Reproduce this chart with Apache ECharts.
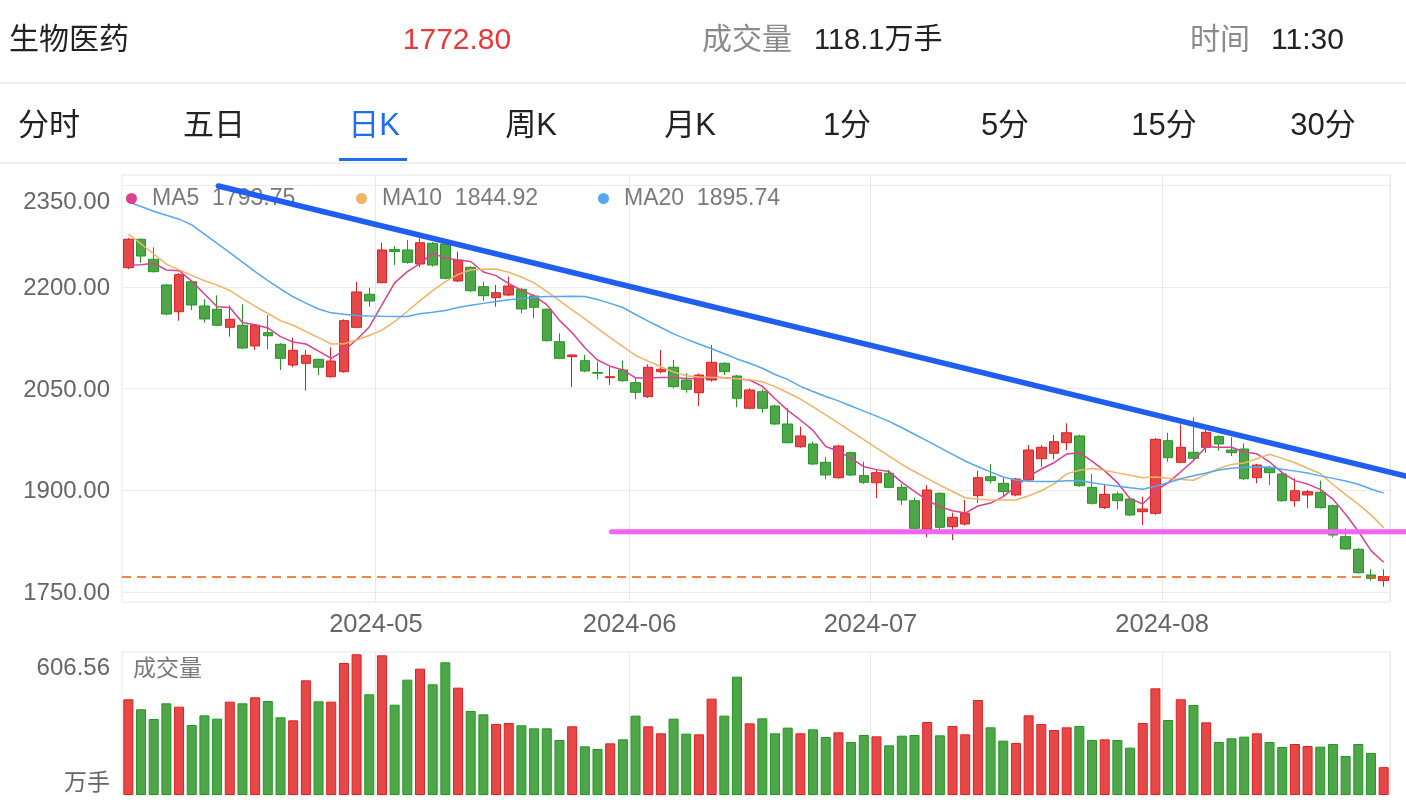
<!DOCTYPE html>
<html><head><meta charset="utf-8">
<script src="https://cdn.jsdelivr.net/npm/echarts@6/dist/echarts.min.js"></script>
<style>html,body{margin:0;padding:0;background:#fff;}#c{width:1406px;height:808px;}</style>
</head><body><div id="c"></div>
<script>
const dates = [
'2024-04-01','2024-04-02','2024-04-03','2024-04-08','2024-04-09','2024-04-10','2024-04-11','2024-04-12','2024-04-15','2024-04-16',
'2024-04-17','2024-04-18','2024-04-19','2024-04-22','2024-04-23','2024-04-24','2024-04-25','2024-04-26','2024-04-29','2024-04-30',
'2024-05-06','2024-05-07','2024-05-08','2024-05-09','2024-05-10','2024-05-13','2024-05-14','2024-05-15','2024-05-16','2024-05-17',
'2024-05-20','2024-05-21','2024-05-22','2024-05-23','2024-05-24','2024-05-27','2024-05-28','2024-05-29','2024-05-30','2024-05-31',
'2024-06-03','2024-06-04','2024-06-05','2024-06-06','2024-06-07','2024-06-11','2024-06-12','2024-06-13','2024-06-14','2024-06-17',
'2024-06-18','2024-06-19','2024-06-20','2024-06-21','2024-06-24','2024-06-25','2024-06-26','2024-06-27','2024-06-28','2024-07-01',
'2024-07-02','2024-07-03','2024-07-04','2024-07-05','2024-07-08','2024-07-09','2024-07-10','2024-07-11','2024-07-12','2024-07-15',
'2024-07-16','2024-07-17','2024-07-18','2024-07-19','2024-07-22','2024-07-23','2024-07-24','2024-07-25','2024-07-26','2024-07-29',
'2024-07-30','2024-07-31','2024-08-01','2024-08-02','2024-08-05','2024-08-06','2024-08-07','2024-08-08','2024-08-09','2024-08-12',
'2024-08-13','2024-08-14','2024-08-15','2024-08-16','2024-08-19','2024-08-20','2024-08-21','2024-08-22','2024-08-23','2024-08-26'];

const open = [2228.1,2270.0,2240.5,2202.6,2163.2,2207.4,2171.6,2166.8,2140.2,2143.2,
2112.7,2132.3,2115.2,2084.6,2087.1,2093.0,2067.4,2074.8,2140.2,2188.9,
2206.0,2255.0,2254.2,2233.5,2264.0,2263.0,2208.5,2228.7,2200.1,2183.9,
2187.8,2196.3,2186.4,2166.8,2119.0,2096.9,2091.0,2073.5,2065.9,2077.3,
2058.6,2037.9,2074.8,2081.3,2062.5,2043.8,2062.5,2087.1,2068.4,2020.8,
2045.3,2024.2,1997.7,1964.2,1968.2,1941.2,1918.5,1955.4,1921.5,1911.1,
1925.0,1904.3,1884.6,1842.4,1895.5,1846.3,1850.2,1892.0,1920.0,1910.2,
1893.0,1915.1,1946.5,1954.5,1970.1,1980.0,1904.3,1874.6,1894.5,1887.1,
1868.4,1866.0,1973.0,1941.2,1956.0,1963.3,1979.0,1959.3,1960.8,1918.5,
1933.8,1924.0,1884.6,1893.0,1897.0,1877.2,1831.5,1812.9,1775.1,1766.7];

const close = [2270.0,2245.3,2222.2,2159.8,2217.8,2173.1,2152.5,2143.2,2152.0,2109.7,
2143.2,2127.8,2094.5,2106.3,2098.9,2081.3,2090.5,2150.0,2192.3,2179.0,
2254.2,2252.0,2236.0,2264.9,2232.0,2212.5,2239.4,2194.2,2186.8,2191.2,
2201.1,2167.2,2169.7,2120.5,2094.5,2099.4,2075.8,2072.5,2067.4,2061.5,
2044.4,2081.3,2078.3,2052.7,2048.8,2069.9,2088.6,2074.8,2035.6,2047.8,
2020.8,1997.7,1970.1,1980.0,1938.7,1922.5,1965.2,1922.5,1911.7,1925.9,
1904.3,1885.6,1843.9,1900.4,1845.4,1860.1,1866.0,1918.5,1914.1,1897.9,
1916.6,1959.3,1963.3,1971.6,1984.8,1906.7,1880.8,1894.0,1884.6,1863.5,
1872.4,1975.1,1948.0,1963.3,1947.1,1985.4,1968.2,1955.4,1917.0,1937.2,
1925.9,1884.6,1899.3,1897.9,1874.3,1834.0,1813.4,1778.5,1770.2,1772.8];

const low = [2226,2235.4,2221,2158,2150,2165.7,2147,2142,2126.4,2108,
2106.8,2107.8,2077.3,2081.3,2046.8,2069.9,2066,2073,2139,2170.6,
2205,2232,2234,2228.7,2229.6,2211,2207,2192,2179,2170.6,
2186,2160.9,2153.5,2119,2093,2051.8,2074,2063.6,2055.2,2060,
2034.1,2036,2072.4,2050.3,2043.8,2024.2,2060,2069.9,2022.3,2019,
2014.3,1996,1969,1962.7,1937,1916.1,1917,1921,1909.2,1888.1,
1903,1878.3,1843,1830.6,1841.4,1826.7,1848,1881.6,1910.2,1891.5,
1891,1913,1934.7,1945.6,1959.3,1905,1879,1872.4,1871.9,1862,
1848.8,1863.5,1942.1,1940,1945,1955.4,1958.3,1950.5,1915,1910.2,
1907.7,1883,1875.7,1873.4,1873,1830.6,1812,1777,1766.7,1757.8];

const high = [2272,2271,2258.2,2204,2220,2209,2181.5,2187.4,2172.6,2174.1,
2145,2158.3,2117,2124.9,2106.8,2094,2110.7,2152,2207.4,2198.6,
2265,2260,2268.9,2271.4,2266,2264.5,2251.7,2230,2207.4,2202.6,
2214.8,2198,2188.9,2168,2131.4,2100.5,2099.4,2089.5,2082.1,2091,
2065,2085.7,2106.8,2092,2072.4,2072,2114.1,2089,2070,2050.3,
2048.8,2026,2020.8,1993.7,1971.6,1949.5,1967,1957,1942.1,1929.9,
1930,1909.2,1889,1907.7,1897,1866.9,1885.6,1928.8,1938.7,1918.5,
1918.5,1966.7,1966.7,1981.5,1998.7,1982,1924,1908.8,1897.9,1889,
1890.5,1977,1984.8,1997.2,2007.5,1988.8,1981,1978.1,1969.2,1939,
1936,1926,1917.6,1900.4,1914.1,1879,1843.9,1815,1783.5,1783.5];

const volume = [405.9,363.4,322.4,388.8,374.6,296.9,337.9,323.8,395.9,388.8,
414.3,398.7,329.5,316.7,486.4,397.3,395.9,559.9,596.8,427.0,
592.5,383.2,489.2,535.9,469.4,562.8,455.3,356.3,342.2,301.2,
305.4,295.6,282.8,282.8,233.3,291.3,206.4,195.1,219.1,236.1,
336.5,291.3,261.6,323.8,260.2,257.3,408.6,336.5,502.0,303.9,
325.2,261.6,285.6,261.6,278.5,246.0,265.8,224.8,254.5,248.8,
210.7,251.6,254.5,309.6,253.1,292.7,257.3,403.0,287.0,230.5,
220.6,337.9,301.2,275.7,287.0,292.7,233.3,236.1,233.3,200.8,
305.4,452.4,318.1,405.9,381.8,308.2,224.8,240.4,247.5,261.6,
224.8,203.6,216.3,207.8,205.0,216.3,165.4,216.3,178.2,118.1];

const ma5 = [2231.6,2232.5,2234.7,2224.7,2223.7,2208.3,2189.3,2170.6,2169.4,2147.3,
2143.9,2139.3,2126.5,2118.4,2115.6,2105.1,2094.5,2105.7,2121.9,2140.7,
2173.3,2205.8,2222.3,2234.1,2249.2,2242.5,2239.6,2237.2,2221.8,2216.4,
2204.7,2194.8,2186.5,2173.5,2150.4,2132.3,2110.2,2092.0,2082.9,2077.3,
2065.6,2065.6,2066.1,2066.4,2064.8,2064.8,2067.3,2065.8,2064.0,2062.5,
2053.1,2034.8,2017.7,2003.6,1988.2,1964.4,1957.4,1947.1,1934.7,1930.4,
1927.5,1911.6,1898.2,1885.5,1875.6,1869.7,1866.3,1876.8,1881.1,1890.6,
1905.5,1920.4,1931.3,1940.6,1953.4,1955.4,1942.8,1928.5,1911.3,1887.6,
1879.7,1898.6,1911.3,1927.2,1943.7,1964.1,1963.5,1963.3,1956.4,1953.7,
1941.7,1925.9,1914.2,1909.1,1901.3,1886.8,1864.6,1839.6,1811.0,1793.75];

const ma10 = [2277.8,2263.3,2248.3,2233.4,2224.8,2216.7,2208.9,2202.4,2194.5,2182.5,
2171.0,2160.6,2150.1,2143.2,2134.0,2124.9,2115.6,2115.8,2121.4,2128.1,
2136.0,2148.5,2163.5,2179.6,2194.2,2207.6,2218.2,2224.8,2225.9,2226.2,
2221.3,2214.4,2205.8,2192.9,2179.6,2166.0,2152.5,2138.5,2125.0,2111.9,
2098.7,2090.3,2082.1,2074.3,2068.9,2067.0,2066.4,2065.8,2064.5,2062.8,
2060.0,2052.7,2043.7,2034.5,2023.0,2011.1,1999.0,1986.8,1974.7,1962.4,
1950.2,1938.0,1927.6,1917.5,1907.5,1898.2,1888.9,1886.7,1885.6,1885.6,
1885.6,1891.8,1899.3,1909.5,1924.1,1929.6,1932.2,1929.4,1925.6,1922.0,
1918.5,1919.5,1917.6,1915.9,1914.8,1923.4,1932.1,1938.1,1940.2,1946.4,
1953.0,1947.0,1940.6,1932.5,1924.6,1908.5,1893.6,1879.6,1863.7,1844.92];

const ma20 = [2324.9,2318.3,2311.4,2305.3,2299.6,2291.2,2277.6,2263.9,2250.4,2236.2,
2222.2,2209.2,2196.7,2185.2,2175.9,2167.2,2161.5,2159.4,2157.6,2156.7,
2156.4,2156.2,2156.2,2160.1,2162.3,2165.1,2169.3,2172.7,2175.5,2178.1,
2180.8,2182.7,2184.6,2185.5,2185.8,2186.1,2185.6,2181.2,2175.5,2169.4,
2159.1,2149.4,2139.9,2130.6,2122.8,2115.5,2108.5,2101.2,2093.6,2087.2,
2079.8,2070.6,2063.4,2053.1,2045.6,2038.2,2031.7,2024.2,2016.7,2009.3,
2001.5,1992.1,1982.6,1972.9,1962.9,1953.0,1943.1,1934.7,1927.1,1919.5,
1915.0,1913.3,1912.9,1912.8,1914.1,1914.4,1911.1,1908.3,1906.0,1903.6,
1901.4,1905.8,1911.0,1916.9,1921.3,1925.4,1929.7,1932.4,1934.0,1934.4,
1934.0,1931.0,1928.2,1925.3,1921.2,1917.5,1913.6,1908.8,1901.9,1895.74];

// trend lines: [x in bar-index units (centre of bar i = i+0.5), price]
const trendDown = [[7.6, 2348.5], [101.26, 1920.8]];
const supportLine = [[38.6, 1838.9], [101.26, 1838.9]];
const lastPrice = 1772.80;
const priceTicks = {min: 1750, max: 2350, interval: 150};
const volMax = 606.56;

const header = {name: '生物医药', price: '1772.80', volLabel: '成交量', vol: '118.1万手', timeLabel: '时间', time: '11:30'};
const tabs = ['分时', '五日', '日K', '周K', '月K', '1分', '5分', '15分', '30分'];
const tabCenters = [49, 214, 374, 531, 690, 847, 1005, 1164, 1323];
const activeTab = 2;

const FONT = '"Liberation Sans", "Noto Sans CJK SC", sans-serif';
const UP = '#e44848', UPB = '#e41e1e', DN = '#4fa54a', DNB = '#1f9a1f';
const C5 = '#de3f8e', C10 = '#f0b464', C20 = '#55a7f2';

const candleData = open.map((o, i) => [o, close[i], low[i], high[i]]);
const volData = volume.map((v, i) => ({
  value: v,
  itemStyle: close[i] >= open[i] ? {color: UP, borderColor: UPB} : {color: DN, borderColor: DNB}
}));
const monthStart = (idx) => idx > 0 && dates[idx].slice(5, 7) !== dates[idx - 1].slice(5, 7);

const L = 122, W = 1268, FULLW = 1406 - L;
const bandsFull = dates.length * FULLW / W; // bar-index units spanning to the right edge of the page

function legendOf(name, val, left) {
  return {
    data: [name], left: left, top: 187, icon: 'circle', itemWidth: 11, itemHeight: 11,
    selectedMode: false, padding: 0,
    textStyle: {fontSize: 23, color: '#7a7a7a', fontFamily: FONT, padding: [0, 0, 0, 10]},
    formatter: (n) => n + '  ' + val.toFixed(2)
  };
}

function txt(text, x, y, size, color, align) {
  return {type: 'text', x: x, y: y, silent: true,
    style: {text: text, fill: color, fontSize: size, fontFamily: FONT,
      align: align || 'left', textAlign: align || 'left', verticalAlign: 'middle', textVerticalAlign: 'middle'}};
}

const graphics = [
  txt(header.name, 9, 41, 30, '#222'),
  txt(header.price, 457, 41, 30, '#e8393c', 'center'),
  txt(header.volLabel, 702, 41, 30, '#8a8a8a'),
  txt(header.vol, 814, 41, 29, '#222'),
  txt(header.timeLabel, 1190, 41, 30, '#8a8a8a'),
  txt(header.time, 1271, 41, 30, '#222'),
  {type: 'rect', shape: {x: 0, y: 82, width: 1406, height: 2}, style: {fill: '#efefef'}, silent: true},
  {type: 'rect', shape: {x: 0, y: 162, width: 1406, height: 2}, style: {fill: '#efefef'}, silent: true},
  {type: 'rect', shape: {x: 339, y: 158, width: 68, height: 3}, style: {fill: '#1e6ef5'}, silent: true},
  txt('成交量', 133, 670, 23, '#7a7a7a')
];
tabs.forEach((t, i) => graphics.push(txt(t, tabCenters[i], 126, 31, i === activeTab ? '#1e6ef5' : '#222', 'center')));

const chart = echarts.init(document.getElementById('c'));
chart.setOption({
  animation: false,
  backgroundColor: '#fff',
  graphic: graphics,
  legend: [legendOf('MA5', ma5[ma5.length - 1], 126), legendOf('MA10', ma10[ma10.length - 1], 356), legendOf('MA20', ma20[ma20.length - 1], 598)],
  grid: [
    {left: L, width: W, top: 175, height: 427, show: true, borderColor: '#e6e6e6', borderWidth: 1, backgroundColor: 'transparent'},
    {left: L, width: W, top: 185, height: 407},
    {left: L, width: W, top: 652, height: 143, show: true, borderColor: '#e6e6e6', borderWidth: 1, backgroundColor: 'transparent'},
    {left: L, width: FULLW, top: 185, height: 407}
  ],
  xAxis: [
    {type: 'category', gridIndex: 0, data: dates, boundaryGap: true,
      axisLine: {show: false}, axisTick: {show: false},
      axisLabel: {interval: monthStart, formatter: (v) => v.slice(0, 7), fontSize: 25.5, color: '#666', fontFamily: FONT, margin: 10, padding: [0, 12, 0, 0]},
      splitLine: {show: true, interval: monthStart, lineStyle: {color: '#e8e8e8', width: 1}}},
    {type: 'category', gridIndex: 1, data: dates, boundaryGap: true, show: false},
    {type: 'category', gridIndex: 2, data: dates, boundaryGap: true,
      axisLine: {show: false}, axisTick: {show: false}, axisLabel: {show: false},
      splitLine: {show: true, interval: monthStart, lineStyle: {color: '#e8e8e8', width: 1}}},
    {type: 'value', gridIndex: 3, min: 0, max: bandsFull, show: false}
  ],
  yAxis: [
    {type: 'value', gridIndex: 0, min: 0, max: 1, show: false},
    {type: 'value', gridIndex: 1, min: priceTicks.min, max: priceTicks.max, interval: priceTicks.interval,
      axisLine: {show: false}, axisTick: {show: false},
      splitLine: {lineStyle: {color: '#ebebeb', width: 1}},
      axisLabel: {fontSize: 24, color: '#666', fontFamily: FONT, margin: 12, padding: [3, 0, 0, 0],
        formatter: (v) => v >= priceTicks.max ? '{t|' + v.toFixed(2) + '}' : v.toFixed(2),
        rich: {t: {fontSize: 24, color: '#666', fontFamily: FONT, padding: [32, 0, 0, 0]}}}},
    {type: 'value', gridIndex: 2, min: 0, max: volMax, interval: volMax,
      axisLine: {show: false}, axisTick: {show: false}, splitLine: {show: false},
      axisLabel: {fontSize: 24, color: '#666', fontFamily: FONT, margin: 12,
        formatter: (v) => v > 0 ? '{t|' + volMax.toFixed(2) + '}' : '{b|万手}',
        rich: {t: {fontSize: 24, color: '#666', fontFamily: FONT, padding: [33, 0, 0, 0]},
               b: {fontSize: 23, color: '#666', fontFamily: FONT, padding: [0, 0, 23, 0]}}}},
    {type: 'value', gridIndex: 3, min: priceTicks.min, max: priceTicks.max, show: false}
  ],
  series: [
    {type: 'candlestick', name: 'K', xAxisIndex: 1, yAxisIndex: 1, data: candleData, barWidth: 10,
      itemStyle: {color: UP, color0: DN, borderColor: UPB, borderColor0: DNB, borderWidth: 1},
      markLine: {silent: true, symbol: 'none', label: {show: false},
        lineStyle: {color: '#ec5c10', type: [9, 6], width: 1.6},
        data: [{yAxis: lastPrice}]}},
    {type: 'line', name: 'MA5', xAxisIndex: 1, yAxisIndex: 1, data: ma5, symbol: 'none', showSymbol: false,
      itemStyle: {color: C5}, lineStyle: {color: C5, width: 1.5}, z: 3},
    {type: 'line', name: 'MA10', xAxisIndex: 1, yAxisIndex: 1, data: ma10, symbol: 'none', showSymbol: false,
      itemStyle: {color: C10}, lineStyle: {color: C10, width: 1.5}, z: 3},
    {type: 'line', name: 'MA20', xAxisIndex: 1, yAxisIndex: 1, data: ma20, symbol: 'none', showSymbol: false,
      itemStyle: {color: C20}, lineStyle: {color: C20, width: 1.5}, z: 3},
    {type: 'line', name: 'trend', xAxisIndex: 3, yAxisIndex: 3, data: trendDown, symbol: 'none', clip: false,
      lineStyle: {color: '#1f5ef0', width: 5.5, cap: 'round'}, z: 6, silent: true},
    {type: 'line', name: 'support', xAxisIndex: 3, yAxisIndex: 3, data: supportLine, symbol: 'none', clip: false,
      lineStyle: {color: '#f064f0', width: 5, cap: 'round'}, z: 6, silent: true},
    {type: 'bar', name: 'VOL', xAxisIndex: 2, yAxisIndex: 2, data: volData, barWidth: 10,
      itemStyle: {borderWidth: 1}}
  ]
});
</script>
</body></html>
